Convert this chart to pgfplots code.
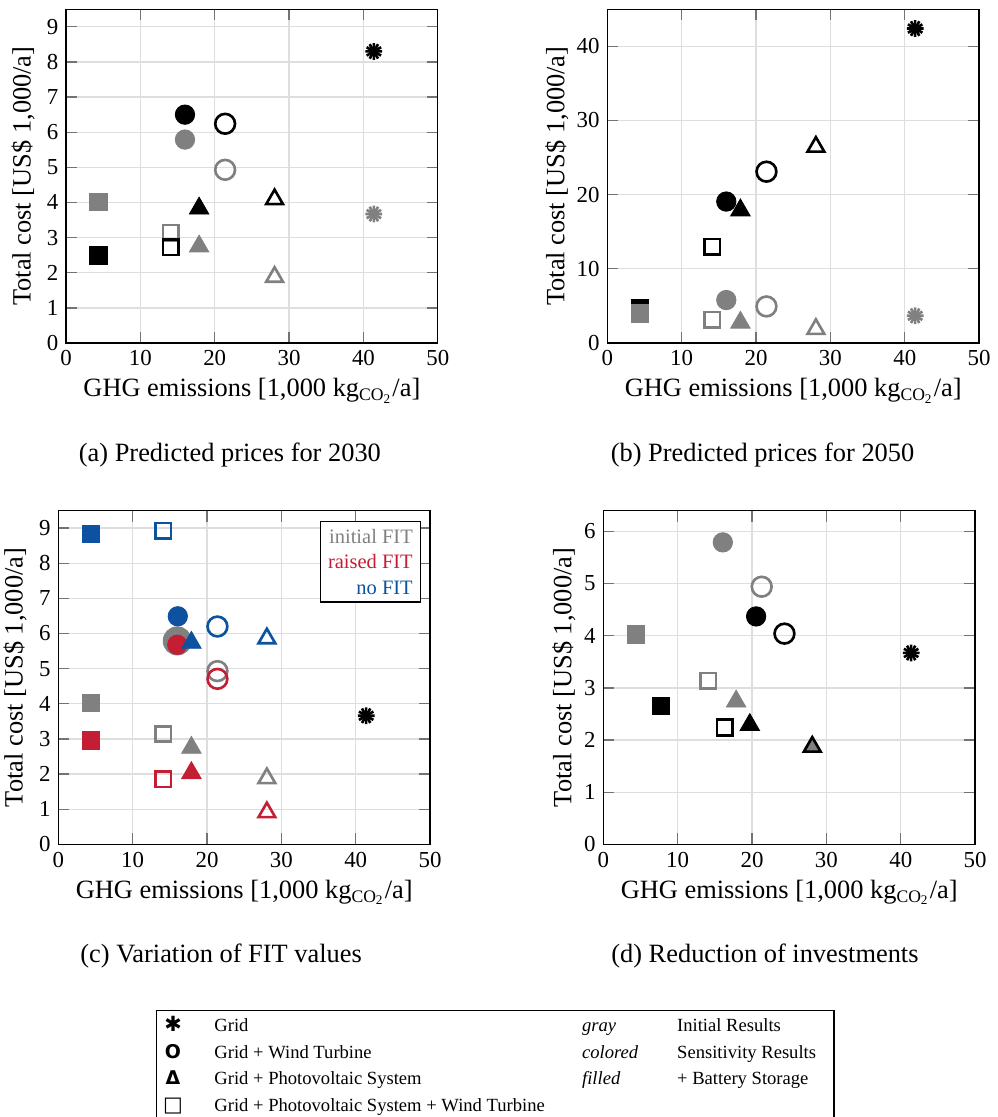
\documentclass[border=0pt]{standalone}
\usepackage{pgfplots}
\pgfplotsset{compat=1.18}
\usepackage{fontspec}
\setmainfont{Liberation Serif}
\newfontfamily\symfont{DejaVu Sans}
\definecolor{fitred}{RGB}{196,30,52}
\definecolor{fitblue}{RGB}{12,82,160}
\definecolor{mygray}{RGB}{128,128,128}
\pgfplotsset{
  myaxis/.style={
    scale only axis, width=169pt, height=151.7pt,
    xmin=0, xmax=50, xtick={0,10,...,50}, ymin=0,
    grid=major, grid style={color=black!13, line width=0.6pt},
    axis line style={line width=0.6pt},
    tick style={color=black!55, line width=0.6pt},
    major tick length=5pt, tick align=inside,
    tick label style={font=\fontsize{10.4}{12}\selectfont},
    /pgf/number format/assume math mode=true,
    label style={font=\fontsize{12}{14}\selectfont},
    xlabel={GHG emissions [1,000 kg\textsubscript{CO\textsubscript{2}}/a]},
    ylabel={Total cost [US\$ 1,000/a]},
    xlabel style={at={(axis description cs:0.5,0)}, anchor=base, yshift=-24.5pt},
  },
  ast/.style={only marks, mark=asterisk, color=#1, mark size=3.8pt, mark options={line width=1.2pt}},
  astb/.style={only marks, mark=asterisk, color=#1, mark size=3.8pt, mark options={line width=1.2pt, rotate=90}},
  fcirc/.style={only marks, mark=*, color=#1, mark size=4.4pt},
  ocirc/.style={only marks, mark=o, color=#1, mark size=4.5pt, mark options={line width=1.2pt}},
  ftri/.style={only marks, mark=triangle*, color=#1, mark size=5.1pt},
  otri/.style={only marks, mark=triangle, color=#1, mark size=4.4pt, mark options={line width=1.2pt}},
  fsq/.style={only marks, mark=square*, color=#1, mark size=4.0pt},
  osq/.style={only marks, mark=square, color=#1, mark size=3.5pt, mark options={line width=1.2pt}},
}
\begin{document}
\begin{tikzpicture}
\useasboundingbox (0,0) rectangle (453.18pt,507.73pt);
% (a)
\begin{axis}[myaxis, at={(30pt,351.82pt)}, anchor=south west, ymax=9.5, ytick={0,1,...,9},
  ylabel style={at={(axis description cs:-0.1156,0.5)}, anchor=center}]
\addplot[ast=mygray] coordinates {(41.4,3.67)};
\addplot[astb=mygray] coordinates {(41.4,3.67)};
\addplot[ocirc=mygray] coordinates {(21.4,4.93)};
\addplot[fcirc=mygray] coordinates {(16.0,5.79)};
\addplot[otri=mygray] coordinates {(28.05,1.88)};
\addplot[ftri=mygray] coordinates {(17.9,2.75)};
\addplot[osq=mygray] coordinates {(14.1,3.14)};
\addplot[fsq=mygray] coordinates {(4.4,4.02)};
\addplot[ast=black] coordinates {(41.4,8.3)};
\addplot[astb=black] coordinates {(41.4,8.3)};
\addplot[ocirc=black] coordinates {(21.4,6.24)};
\addplot[fcirc=black] coordinates {(16.0,6.5)};
\addplot[otri=black] coordinates {(28.05,4.09)};
\addplot[ftri=black] coordinates {(17.9,3.83)};
\addplot[osq=black] coordinates {(14.1,2.72)};
\addplot[fsq=black] coordinates {(4.4,2.49)};
\end{axis}
% (b)
\begin{axis}[myaxis, at={(276.05pt,351.82pt)}, anchor=south west, ymax=45, ytick={0,10,...,40},
  ylabel style={at={(axis description cs:-0.136,0.5)}, anchor=center}]
\addplot[ast=mygray] coordinates {(41.4,3.67)};
\addplot[astb=mygray] coordinates {(41.4,3.67)};
\addplot[ocirc=mygray] coordinates {(21.4,4.93)};
\addplot[fcirc=mygray] coordinates {(16.0,5.79)};
\addplot[otri=mygray] coordinates {(28.05,1.88)};
\addplot[ftri=mygray] coordinates {(17.9,2.75)};
\addplot[osq=mygray] coordinates {(14.1,3.14)};
\addplot[fsq=black] coordinates {(4.4,4.7)};
\addplot[fsq=mygray] coordinates {(4.4,4.02)};
\addplot[ast=black] coordinates {(41.4,42.4)};
\addplot[astb=black] coordinates {(41.4,42.4)};
\addplot[ocirc=black] coordinates {(21.4,23.1)};
\addplot[fcirc=black] coordinates {(16.0,19.07)};
\addplot[otri=black] coordinates {(28.05,26.45)};
\addplot[ftri=black] coordinates {(17.9,17.9)};
\addplot[osq=black] coordinates {(14.1,13.0)};
\end{axis}
% (c)
\begin{axis}[myaxis, at={(26.5pt,123.95pt)}, anchor=south west, ymax=9.5, ytick={0,1,...,9},
  ylabel style={at={(axis description cs:-0.1165,0.5)}, anchor=center}]
\addplot[ast=black] coordinates {(41.4,3.66)};
\addplot[astb=black] coordinates {(41.4,3.66)};
\addplot[only marks, mark=*, color=mygray, mark size=6.4pt] coordinates {(16.0,5.79)};
\addplot[ocirc=mygray] coordinates {(21.4,4.93)};
\addplot[otri=mygray] coordinates {(28.05,1.88)};
\addplot[ftri=mygray] coordinates {(17.9,2.75)};
\addplot[osq=mygray] coordinates {(14.1,3.14)};
\addplot[fsq=mygray] coordinates {(4.4,4.02)};
\addplot[fcirc=fitred] coordinates {(16.0,5.68)};
\addplot[ocirc=fitred] coordinates {(21.4,4.71)};
\addplot[otri=fitred] coordinates {(28.05,0.91)};
\addplot[ftri=fitred] coordinates {(17.9,2.03)};
\addplot[osq=fitred] coordinates {(14.1,1.85)};
\addplot[fsq=fitred] coordinates {(4.4,2.95)};
\addplot[fcirc=fitblue] coordinates {(16.07,6.49)};
\addplot[ocirc=fitblue] coordinates {(21.4,6.2)};
\addplot[otri=fitblue] coordinates {(28.05,5.86)};
\addplot[ftri=fitblue] coordinates {(17.9,5.74)};
\addplot[osq=fitblue] coordinates {(14.1,8.93)};
\addplot[fsq=fitblue] coordinates {(4.4,8.83)};
\node[draw, line width=0.6pt, fill=white, anchor=north east, align=right, inner sep=3.5pt,
  font=\fontsize{9.3}{11.6}\selectfont] at (rel axis cs:0.9758,0.970)
  {\textcolor{mygray}{initial FIT}\\\textcolor{fitred}{raised FIT}\\\textcolor{fitblue}{no FIT}};
\end{axis}
% (d)
\begin{axis}[myaxis, at={(274.23pt,123.95pt)}, anchor=south west, ymax=6.4, ytick={0,1,...,6},
  ylabel style={at={(axis description cs:-0.106,0.5)}, anchor=center}]
\addplot[fcirc=mygray] coordinates {(16.07,5.79)};
\addplot[ocirc=mygray] coordinates {(21.3,4.94)};
\addplot[fsq=mygray] coordinates {(4.4,4.02)};
\addplot[osq=mygray] coordinates {(14.1,3.14)};
\addplot[ftri=mygray] coordinates {(17.86,2.74)};
\addplot[ast=black] coordinates {(41.4,3.67)};
\addplot[astb=black] coordinates {(41.4,3.67)};
\addplot[fcirc=black] coordinates {(20.55,4.37)};
\addplot[ocirc=black] coordinates {(24.36,4.04)};
\addplot[fsq=black] coordinates {(7.76,2.65)};
\addplot[osq=black] coordinates {(16.3,2.24)};
\addplot[ftri=black] coordinates {(19.7,2.29)};
\addplot[only marks, mark=triangle*, mark size=4.4pt, mark options={fill=mygray, draw=black, line width=1.2pt}] coordinates {(28.1,1.87)};
\end{axis}
% captions
\node[anchor=base, font=\fontsize{12}{14}\selectfont] at (104.5pt,298.1pt) {(a) Predicted prices for 2030};
\node[anchor=base, font=\fontsize{12}{14}\selectfont] at (346.6pt,298.1pt) {(b) Predicted prices for 2050};
\node[anchor=base, font=\fontsize{12}{14}\selectfont] at (100.5pt,70.4pt) {(c) Variation of FIT values};
\node[anchor=base, font=\fontsize{12}{14}\selectfont] at (347.7pt,70.4pt) {(d) Reduction of investments};
% bottom legend
\draw[line width=0.6pt] (71.23pt,-5pt) rectangle (379.1pt,48.32pt);
\begin{scope}[every node/.style={inner sep=0pt, font=\fontsize{8.45}{10}\selectfont}]
\node[anchor=base] at (78.64pt,38.9pt) {\symfont\bfseries\fontsize{9.5}{10}\selectfont ✱};
\node[anchor=base] at (78.64pt,26.8pt) {\symfont\bfseries\fontsize{8.6}{10}\selectfont O};
\node[anchor=base] at (78.64pt,14.7pt) {\symfont\bfseries\fontsize{8.6}{10}\selectfont Δ};
\node[anchor=base] at (78.64pt,2.6pt) {\symfont\bfseries\fontsize{9.5}{10}\selectfont □};
\node[anchor=base west] at (97.27pt,38.9pt) {Grid};
\node[anchor=base west] at (97.27pt,26.8pt) {Grid + Wind Turbine};
\node[anchor=base west] at (97.27pt,14.7pt) {Grid + Photovoltaic System};
\node[anchor=base west] at (97.27pt,2.6pt) {Grid + Photovoltaic System + Wind Turbine};
\node[anchor=base west] at (264.4pt,38.9pt) {\itshape gray};
\node[anchor=base west] at (264.4pt,26.8pt) {\itshape colored};
\node[anchor=base west] at (264.4pt,14.7pt) {\itshape filled};
\node[anchor=base west] at (307.6pt,38.9pt) {Initial Results};
\node[anchor=base west] at (307.6pt,26.8pt) {Sensitivity Results};
\node[anchor=base west] at (307.6pt,14.7pt) {+ Battery Storage};
\end{scope}
\end{tikzpicture}
\end{document}
